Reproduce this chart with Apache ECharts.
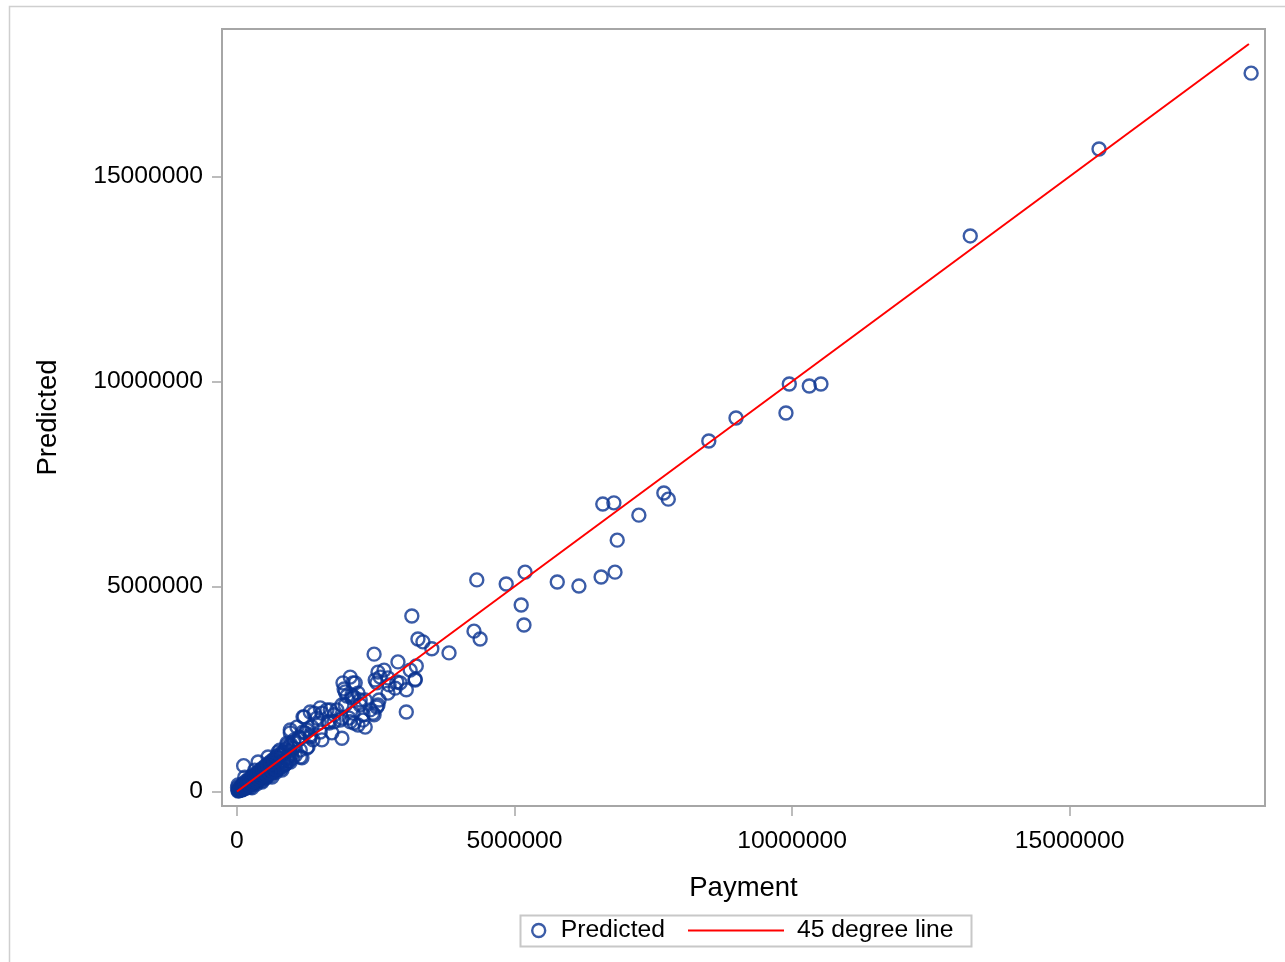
<!DOCTYPE html>
<html>
<head>
  <meta charset="utf-8">
  <title>Predicted vs Payment</title>
  <style>
    html, body { margin: 0; padding: 0; background: #fff; }
    #main { width: 1285px; height: 962px; }
  </style>
</head>
<body>
<div id="main"></div>
<script src="https://cdn.jsdelivr.net/npm/echarts@6/dist/echarts.min.js"></script>
<script>
// values
var payment = [
  18270000, 15530000, 13210000, 9950000, 10310000, 10520000, 9890000, 8990000, 8500000,
  7690000, 7770000, 7240000, 6590000, 6790000, 6850000, 6810000, 6560000, 6160000, 5770000,
  5190000, 5120000, 5170000, 4850000, 4320000, 4270000, 4380000, 3820000, 3510000, 3350000,
  3260000, 3150000, 2900000, 3230000, 3210000, 3050000, 3050000, 2650000, 2880000, 2720000,
  2580000, 2850000, 2470000, 2540000, 2490000, 2740000,
  3120000, 2720000, 2940000, 3210000, 2520000, 2040000, 2130000, 1910000, 1950000, 2180000,
  2070000, 1950000, 2220000, 2400000, 2540000, 2450000, 2270000, 2090000, 1800000, 1860000,
  2040000, 2180000, 2470000, 2310000,
  1890000, 2070000, 2220000, 1890000, 1680000, 1500000, 1320000, 1190000, 1440000, 1640000,
  1890000, 2270000, 1080000, 1260000, 1500000, 1710000, 960000, 1140000, 1370000, 900000,
  770000, 1010000, 1260000, 720000, 920000, 1140000, 650000, 860000,
  1210000, 1390000, 1530000, 1620000, 1750000, 1750000, 1660000, 1480000, 1350000, 1320000,
  1230000, 1120000, 960000, 1030000, 1530000, 2110000, 2020000, 1930000, 1980000, 2110000,
  2310000, 2560000, 2520000, 2090000,
  120000, 1190000, 1320000, 900000, 1140000, 1280000, 740000, 1170000, 380000, 560000,
  740000, 960000, 320000, 560000, 810000, 140000, 380000, 630000, 20000, 200000,
  450000, 20000, 90000, 270000, 10000,
  30000, 50000, 60000, 80000, 100000, 120000, 130000, 150000, 160000, 180000,
  190000, 210000, 220000, 240000, 250000, 270000, 280000, 300000, 310000, 330000,
  340000, 360000, 370000, 390000, 400000, 420000, 430000, 450000, 460000, 480000,
  500000, 520000, 530000, 550000, 570000, 580000, 600000, 620000, 640000, 660000,
  680000, 700000, 720000, 750000, 780000, 800000, 840000, 860000, 900000, 950000,
  980000, 450000, 600000, 800000, 520000, 700000, 350000, 660000, 880000, 240000,
  40000, 70000, 110000, 170000, 230000, 290000, 350000, 410000, 490000, 560000,
  100000, 150000, 200000, 250000, 300000, 350000, 400000, 450000, 500000, 550000,
  600000, 650000, 700000, 750000, 800000, 850000, 900000, 950000, 1000000, 1050000,
  60000, 110000, 160000, 210000, 260000, 310000, 360000, 410000, 460000, 510000,
  560000, 610000, 660000, 710000, 760000, 820000, 870000, 920000, 970000, 1020000,
  20000, 45000, 65000, 85000, 105000, 125000, 145000, 170000, 195000, 215000,
  235000, 260000, 285000, 305000, 325000, 345000, 370000, 395000, 415000, 440000,
  465000, 490000, 510000, 535000, 560000, 585000, 610000, 640000, 670000, 700000
];
var predicted = [
  17520000, 15670000, 13550000, 9940000, 9890000, 9940000, 9230000, 9110000, 8550000,
  7280000, 7130000, 6740000, 7010000, 7040000, 6130000, 5350000, 5230000, 5010000, 5110000,
  5350000, 4550000, 4060000, 5060000, 5160000, 3910000, 3720000, 3380000, 3480000, 3650000,
  3720000, 4280000, 3160000, 3060000, 2740000, 2480000, 1940000, 2960000, 2670000, 2400000,
  2790000, 2520000, 3350000, 2910000, 2720000, 2600000,
  2960000, 2770000, 2650000, 2720000, 2650000, 2790000, 2650000, 2650000, 2430000, 2400000,
  2280000, 2110000, 2110000, 1990000, 2110000, 1910000, 1870000, 1910000, 1990000, 1740000,
  1700000, 1620000, 1870000, 1570000,
  1300000, 2350000, 2230000, 2110000, 1990000, 2040000, 1940000, 1820000, 1790000, 1700000,
  1790000, 1740000, 1570000, 1500000, 1450000, 1430000, 1430000, 1300000, 1260000, 1180000,
  1010000, 1060000, 1060000, 840000, 840000, 840000, 700000, 650000,
  1820000, 1910000, 1910000, 1990000, 1870000, 1700000, 1670000, 1670000, 1570000, 1330000,
  1430000, 1330000, 1500000, 1260000, 1260000, 1670000, 1790000, 2500000, 2330000, 2300000,
  2230000, 2230000, 2060000, 2650000,
  630000, 1450000, 1380000, 1130000, 1010000, 1090000, 960000, 820000, 720000, 840000,
  700000, 720000, 520000, 520000, 520000, 350000, 350000, 350000, 160000, 210000,
  230000, 10000, 40000, 90000, 90000,
  20000, 60000, 40000, 100000, 80000, 140000, 100000, 170000, 120000, 200000,
  150000, 240000, 180000, 270000, 200000, 300000, 230000, 330000, 260000, 370000,
  290000, 400000, 310000, 440000, 340000, 470000, 370000, 500000, 400000, 540000,
  430000, 580000, 460000, 600000, 500000, 640000, 520000, 680000, 570000, 720000,
  600000, 780000, 640000, 820000, 700000, 880000, 750000, 950000, 800000, 1000000,
  880000, 260000, 380000, 560000, 330000, 470000, 180000, 600000, 680000, 100000,
  30000, 50000, 90000, 140000, 190000, 250000, 300000, 360000, 420000, 480000,
  40000, 70000, 110000, 150000, 180000, 230000, 270000, 300000, 350000, 390000,
  430000, 470000, 520000, 560000, 600000, 650000, 700000, 760000, 820000, 880000,
  130000, 190000, 250000, 300000, 350000, 410000, 460000, 520000, 570000, 620000,
  680000, 730000, 790000, 850000, 900000, 960000, 1020000, 1080000, 1150000, 1200000,
  35000, 25000, 90000, 55000, 135000, 85000, 185000, 120000, 240000, 160000,
  290000, 200000, 340000, 240000, 380000, 270000, 430000, 310000, 480000, 350000,
  530000, 390000, 580000, 420000, 630000, 460000, 680000, 500000, 740000, 550000
];
var lineX = [0, 18230000];
var lineY = [0, 18230000];
var xTicks = [0, 5000000, 10000000, 15000000];
var yTicks = [0, 5000000, 10000000, 15000000];

var points = [];
for (var i = 0; i < payment.length; i++) {
  points.push([payment[i], predicted[i]]);
}
var diag = [];
for (var j = 0; j < lineX.length; j++) {
  diag.push([lineX[j], lineY[j]]);
}

var font = "'Liberation Sans', Arial, sans-serif";
var frameColor = '#a6a6a6';
var dotColor = '#0a3391';

function plain(v) { return String(v); }

var chart = echarts.init(document.getElementById('main'));
chart.setOption({
  backgroundColor: '#fff',
  animation: false,
  grid: {
    left: 222, top: 29, width: 1043, height: 777,
    show: true, borderColor: frameColor, borderWidth: 2,
    containLabel: false
  },
  xAxis: {
    type: 'value',
    min: -270000, max: 18520000,
    splitLine: { show: false },
    axisLine: { show: false, onZero: false },
    axisTick: { show: true, length: 10, customValues: xTicks,
      lineStyle: { color: frameColor, width: 1.5 } },
    axisLabel: { customValues: xTicks, margin: 23, color: '#000',
      fontSize: 24.7, fontFamily: font, formatter: plain },
    name: 'Payment', nameLocation: 'middle', nameGap: 68,
    nameTextStyle: { color: '#000', fontSize: 27.5, fontFamily: font }
  },
  yAxis: {
    type: 'value',
    min: -354000, max: 18597000,
    splitLine: { show: false },
    axisLine: { show: false, onZero: false },
    axisTick: { show: true, length: 10, customValues: yTicks,
      lineStyle: { color: frameColor, width: 1.5 } },
    axisLabel: { customValues: yTicks, margin: 19, color: '#000',
      fontSize: 24.7, fontFamily: font, formatter: plain },
    name: 'Predicted', nameLocation: 'middle', nameGap: 160, nameRotate: 90,
    nameTextStyle: { color: '#000', fontSize: 27.5, fontFamily: font }
  },
  legend: [
    {
      data: [{ name: 'Predicted', icon: 'circle' }],
      left: 531, top: 918, padding: 0,
      itemWidth: 34, itemHeight: 13,
      itemStyle: { color: 'transparent', borderColor: dotColor, borderWidth: 2.4 },
      textStyle: { color: '#000', fontSize: 24.7, fontFamily: font },
      selectedMode: false
    },
    {
      data: [{ name: '45 degree line', icon: 'rect' }],
      left: 688, top: 918, padding: 0,
      itemWidth: 96, itemHeight: 2,
      itemStyle: { color: '#ff0000' },
      textStyle: { color: '#000', fontSize: 24.7, fontFamily: font, padding: [0, 0, 0, 8] },
      selectedMode: false
    }
  ],
  graphic: [
    { type: 'rect', left: 7, top: 4, silent: true,
      shape: { width: 1300, height: 1000 },
      style: { fill: 'none', stroke: '#cfcfcf', lineWidth: 1.5 } },
    { type: 'rect', left: 518, top: 913, silent: true,
      shape: { width: 451, height: 31 },
      style: { fill: 'none', stroke: '#c8c8c8', lineWidth: 2 } }
  ],
  series: [
    {
      name: 'Predicted',
      type: 'scatter',
      symbol: 'circle',
      symbolSize: 13,
      data: points,
      itemStyle: { color: 'transparent', borderColor: dotColor, borderWidth: 2.4 }
    },
    {
      name: '45 degree line',
      type: 'line',
      data: diag,
      showSymbol: false,
      symbol: 'none',
      lineStyle: { color: '#ff0000', width: 2 },
      itemStyle: { color: '#ff0000' },
      z: 3
    }
  ]
});
</script>
</body>
</html>
